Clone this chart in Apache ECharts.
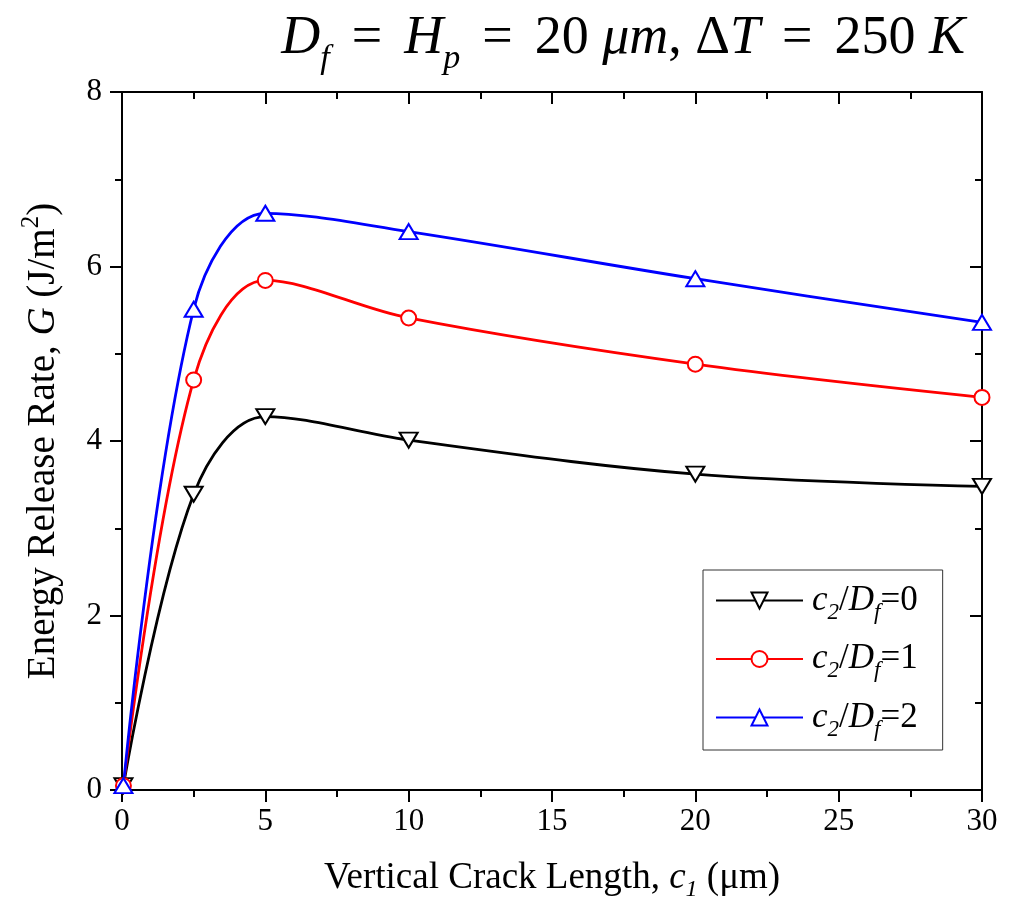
<!DOCTYPE html>
<html><head><meta charset="utf-8">
<script src="https://cdn.jsdelivr.net/npm/echarts@6/dist/echarts.min.js"></script>
<style>html,body{margin:0;padding:0;background:#fff}#c{width:1015px;height:910px}</style>
</head><body><div id="c"></div>
<script>
// Data
const crackLength = [0.05, 2.5, 5, 10, 20, 30];          // c1 (µm)
const gRatio0 = [0.05, 3.39, 4.28, 4.01, 3.62, 3.48];    // c2/Df = 0
const gRatio1 = [0.05, 4.70, 5.84, 5.41, 4.88, 4.50];    // c2/Df = 1
const gRatio2 = [0.05, 5.51, 6.61, 6.40, 5.86, 5.36];    // c2/Df = 2
const ratioLabels = ['0', '1', '2'];
const seriesNames = ['c2/Df=0', 'c2/Df=1', 'c2/Df=2'];

const FONT = 'Liberation Serif';
const chart = echarts.init(document.getElementById('c'), null, {renderer: 'canvas'});

function pairs(ys) { return crackLength.map((x, i) => [x, ys[i]]); }
function tok(size, italic, extra) {
  return Object.assign({fontFamily: FONT, fontSize: size, fontStyle: italic ? 'italic' : 'normal', fontWeight: 'normal', color: '#000'}, extra || {});
}

const axisLineStyle = {color: '#000', width: 2};
function xAx(pos, showLabels) {
  return {
    type: 'value', position: pos, min: 0, max: 30, interval: 5,
    axisLine: {show: true, onZero: false, lineStyle: axisLineStyle},
    axisTick: {show: true, inside: !showLabels, length: 12, lineStyle: axisLineStyle},
    minorTick: {show: true, splitNumber: 2, length: 7, lineStyle: axisLineStyle},
    splitLine: {show: false}, minorSplitLine: {show: false},
    axisLabel: {show: showLabels, fontFamily: FONT, fontSize: 31, color: '#000', margin: 16},
    name: showLabels ? '{n|Vertical Crack Length, }{i|c}{sub|1}{n| (μm)}' : '',
    nameLocation: 'middle', nameGap: 64,
    nameTextStyle: {
      fontFamily: FONT, fontSize: 37, color: '#000',
      rich: {n: tok(37, false), i: tok(37, true), sub: tok(24, true, {padding: [24, 0, 0, 0]})}
    }
  };
}
function yAx(pos, showLabels) {
  return {
    type: 'value', position: pos, min: 0, max: 8, interval: 2,
    axisLine: {show: true, onZero: false, lineStyle: axisLineStyle},
    axisTick: {show: true, inside: !showLabels, length: 12, lineStyle: axisLineStyle},
    minorTick: {show: true, splitNumber: 2, length: 7, lineStyle: axisLineStyle},
    splitLine: {show: false}, minorSplitLine: {show: false},
    axisLabel: {show: showLabels, fontFamily: FONT, fontSize: 31, color: '#000', margin: 20},
    name: showLabels ? '{n|Energy Release Rate, }{i|G}{n| (J/m}{sup|2}{n|)}' : '',
    nameLocation: 'middle', nameGap: 54, nameRotate: 90,
    nameTextStyle: {
      fontFamily: FONT, fontSize: 39, color: '#000',
      rich: {n: tok(39, false), i: tok(39, true), sup: tok(25, false, {padding: [0, 0, 24, 0]})}
    }
  };
}

function lineSeries(name, ys, color, symbol, rotate, size) {
  return {
    name: name, type: 'line', data: pairs(ys),
    smooth: 0.35,
    symbol: symbol, symbolSize: size, symbolRotate: rotate,
    color: color,
    lineStyle: {color: color, width: 2.8},
    itemStyle: {color: color, borderColor: color, borderWidth: 1.8},
    emphasis: {disabled: true},
    z: 3
  };
}

const option = {
  backgroundColor: '#fff',
  animation: false,
  title: {
    text: '{i|D}{sub|f}{e|=}{i|H}{sub|p}{e|=}{n|20 }{i|μm}{n|, Δ}{i|T}{e|=}{n|250 }{i|K}',
    right: 45, top: -3,
    textStyle: {
      fontFamily: FONT, fontSize: 54, fontWeight: 'normal', color: '#000',
      rich: {
        n: tok(54, false), i: tok(54, true),
        e: tok(54, false, {padding: [0, 22, 0, 22]}),
        sub: tok(34, true, {padding: [40, 0, 0, 0]})
      }
    }
  },
  grid: {left: 122, right: 33, top: 92, bottom: 120, containLabel: false},
  xAxis: [xAx('bottom', true), xAx('top', false)],
  yAxis: [yAx('left', true), yAx('right', false)],
  legend: {
    orient: 'vertical', left: 703, top: 570,
    padding: [13, 25, 9, 12], itemGap: 17.5,
    itemWidth: 87, itemHeight: 20,
    borderColor: '#333', borderWidth: 1, backgroundColor: '#fff',
    data: seriesNames,
    formatter: function (name) {
      const k = seriesNames.indexOf(name);
      return '{c|c}{sub|2}{n|/}{i|D}{sub|f}{n|=' + ratioLabels[k] + '}';
    },
    textStyle: {
      fontFamily: FONT, fontSize: 35, color: '#000',
      rich: {
        c: tok(35, true, {padding: [0, 0, 0, 4]}),
        n: tok(35, false), i: tok(35, true),
        sub: tok(23, true, {padding: [24, 0, 0, 0]})
      }
    }
  },
  series: [
    lineSeries(seriesNames[0], gRatio0, '#000000', 'emptyTriangle', 180, [18, 15]),
    lineSeries(seriesNames[1], gRatio1, '#ff0000', 'emptyCircle', 0, 15),
    lineSeries(seriesNames[2], gRatio2, '#0000ff', 'emptyTriangle', 0, [18, 15])
  ]
};
chart.setOption(option);
</script>
</body></html>
